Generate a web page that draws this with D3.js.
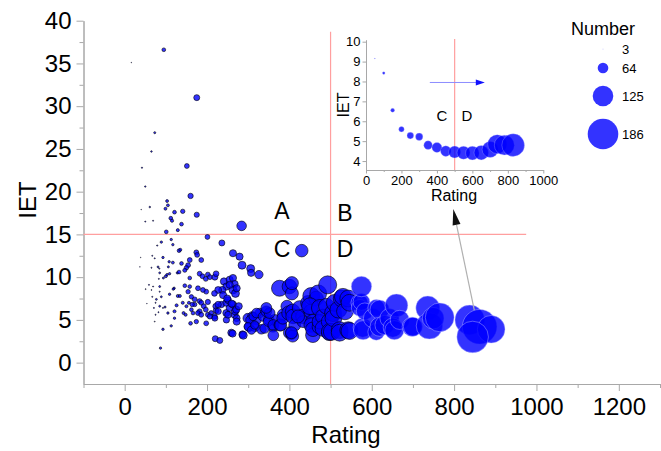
<!DOCTYPE html>
<html><head><meta charset="utf-8">
<script src="https://cdn.jsdelivr.net/npm/d3@7"></script>
<style>html,body{margin:0;padding:0;background:#fff;}svg{display:block;font-family:"Liberation Sans",Arial,sans-serif;}</style>
</head><body>
<svg id="c" width="661" height="451"></svg>
<script>
// ---------- data ----------
// main scatter: Rating, IET, Number
const rating = [95,16,175,73,65,151,42,50,160,103,105,99,61,121,141,175,112,115,138,50,69,284,40,
101,129,201,236,263,279,285,306,307,326,430,89,113,79,117,132,135,174,176,186,158,154,150,138,117,93,108,73,67,39,37,
81,65,84,106,85,100,103,109,94,83,128,132,146,158,182,189,197,202,207,219,222,241,255,263,267,247,237,239,263,269,272,255,227,218,198,190,178,158,146,120,118,129,134,109,85,85,69,65,51,59,67,77,89,75,85,82,93,71,75,73,54,105,121,113,93,87,98,121,126,141,150,156,143,148,160,162,166,170,164,170,154,162,182,186,192,197,182,178,186,202,198,174,210,218,207,221,222,202,235,227,227,247,251,249,247,247,251,255,263,260,267,268,271,277,272,219,259,286,220,231,262,272,288,
299,302,310,320,328,316,332,304,300,308,312,316,320,336,344,350,360,364,340,348,352,344,361,361,377,385,379,384,376,400,406,406,400,405,408,394,399,408,409,413,425,433,433,445,453,453,457,453,457,457,465,470,450,474,473,473,481,482,490,493,497,498,498,405,421,
503,506,507,510,519,522,522,527,530,535,543,543,546,546,570,571,575,575,578,579,583,603,611,611,619,619,631,643,651,655,660,668,697,700,736,740,749,765,838,862,890,845];
const iet = [36.6,35.1,31.0,26.9,24.7,23.0,22.8,20.6,19.5,18.9,18.4,18.0,18.2,17.6,17.7,17.3,16.9,16.6,16.2,16.5,16.6,16.0,17.9,
15.3,15.5,14.7,14.0,12.8,12.4,11.4,11.0,10.5,10.3,13.1,14.1,14.4,13.7,13.8,13.1,13.2,12.9,12.6,12.0,12.0,11.4,11.1,11.6,11.7,12.3,11.8,12.2,12.5,12.3,11.2,
11.2,11.1,11.0,11.2,10.5,10.1,10.3,10.4,9.9,9.8,10.5,10.6,10.8,9.9,10.4,10.1,9.8,10.3,10.0,10.0,10.4,9.5,9.7,9.9,9.2,8.9,8.5,7.9,8.5,8.1,8.7,9.1,8.5,8.1,8.3,8.5,8.7,8.9,9.0,8.7,8.6,7.8,7.8,8.0,8.9,8.3,8.9,8.5,8.6,9.1,7.7,7.4,7.7,7.0,6.6,5.9,6.4,6.4,5.6,4.8,6.9,5.8,5.2,4.3,3.9,1.7,6.5,6.0,6.7,7.0,6.6,7.0,5.8,5.6,4.6,6.2,5.8,6.8,6.8,7.4,8.3,7.7,7.2,7.0,6.6,6.2,6.0,5.8,5.6,5.6,4.6,4.8,5.8,5.4,5.4,6.6,6.1,7.1,6.8,6.8,6.0,7.0,7.3,7.5,5.8,5.0,5.6,6.4,6.8,6.9,5.6,6.0,6.2,6.6,5.2,5.2,3.5,3.3,2.8,2.6,3.4,4.8,3.2,
5.2,4.2,5.4,5.0,5.8,4.2,3.9,5.0,4.2,3.8,5.4,4.4,5.8,5.4,6.0,5.0,4.2,5.0,4.0,4.8,5.8,6.4,4.4,3.2,4.4,5.6,4.4,5.2,8.7,8.9,8.1,9.3,3.5,3.4,3.1,6.6,5.8,6.0,5.4,4.4,6.4,5.4,4.8,7.0,6.0,7.8,4.8,4.4,3.2,3.9,7.5,8.1,6.6,6.4,4.2,4.8,5.4,4.0,6.6,9.1,3.5,4.8,3.6,3.5,5.4,
3.6,5.8,5.2,7.0,6.2,3.8,3.5,7.5,7.7,6.0,7.5,3.8,7.0,3.7,7.0,6.4,7.1,8.9,4.1,3.8,6.0,5.2,6.4,3.6,6.2,4.2,4.4,5.2,4.1,3.8,6.7,5.0,4.2,4.2,6.4,4.3,5.2,5.3,5.0,4.2,3.9,3.0];
const number = [22,3,36,12,9,29,7,8,32,17,17,17,9,22,26,31,22,19,22,6,6,58,3,
22,18,29,36,43,43,48,48,43,50,76,14,14,7,14,22,18,29,29,29,29,29,26,22,17,14,14,6,6,3,3,
11,6,7,12,11,17,14,14,12,6,14,22,24,22,29,29,29,29,29,36,34,43,43,43,43,43,43,43,48,48,43,43,41,34,29,29,29,22,22,14,14,18,18,14,11,6,6,5,5,6,6,11,11,6,11,6,6,6,6,5,3,14,14,14,14,14,12,18,18,18,18,18,18,18,22,22,22,26,26,29,26,26,29,29,29,29,29,29,29,29,29,26,29,34,31,34,34,31,38,38,38,43,41,43,43,38,41,43,43,43,43,43,43,43,41,36,43,43,36,36,43,43,48,
58,58,58,58,58,58,58,50,50,50,50,50,58,58,65,65,65,65,58,58,65,65,65,65,72,72,72,72,97,88,79,79,72,72,72,72,88,88,88,72,88,88,72,88,88,102,88,88,88,88,88,102,102,102,88,88,88,97,95,109,95,102,102,72,79,
102,102,102,102,102,102,102,102,102,102,102,102,102,102,102,102,102,124,116,116,102,116,102,102,116,116,116,116,116,116,138,116,116,116,145,160,131,175,180,210,168,192];

// inset (binned means)
const insetRating = [50,100,150,200,250,300,350,400,450,500,550,600,650,700,740,780,830];
const insetIET    = [9.15,8.42,6.55,5.6,5.28,5.22,4.8,4.68,4.5,4.45,4.42,4.4,4.42,4.58,4.85,4.8,4.8];
const insetNumber = [6,20,31,43,53,59,69,81,86,98,106,111,118,131,156,164,186];

// legend
const legendValues = [3,64,125,186];

// tick labels
const xTicks = [0,200,400,600,800,1000,1200];
const yTicks = [0,5,10,15,20,25,30,35,40];
const insetXTicks = [0,200,400,600,800,1000];
const insetYTicks = [4,5,6,7,8,9,10];

// ---------- drawing ----------
const svg = d3.select("#c");
const AX = "#a8a8a8";
const RED = "#ff9f9f";
const FILL = "rgba(0,0,255,0.8)";
const fmt = d3.format("d");

const x = d3.scaleLinear([-100,1300],[83.5,660]);
const y = d3.scaleLinear([-2.5,40],[384,20.7]);
const r = d3.scaleLinear([3,186],[0.3,15.3]);

function styleAxis(g){
  g.selectAll("path,line").attr("stroke",AX);
  g.selectAll("text").attr("fill","#000");
}

// minor ticks
const gxm = svg.append("g").attr("transform","translate(0,384)")
  .call(d3.axisBottom(x).tickValues(d3.range(-100,1301,100).filter(v=>v%200!==0)).tickSize(4).tickFormat("").tickSizeOuter(0));
styleAxis(gxm);
const gym = svg.append("g").attr("transform","translate(83.5,0)")
  .call(d3.axisLeft(y).tickValues(d3.range(2.5,40,5)).tickSize(4).tickFormat("").tickSizeOuter(0));
styleAxis(gym);

const gx = svg.append("g").attr("transform","translate(0,384)")
  .call(d3.axisBottom(x).tickValues(xTicks).tickFormat(fmt).tickSize(7).tickPadding(7).tickSizeOuter(0));
gx.selectAll("text").attr("font-size",24).attr("font-family","Liberation Sans, Arial");
styleAxis(gx);
const gy = svg.append("g").attr("transform","translate(83.5,0)")
  .call(d3.axisLeft(y).tickValues(yTicks).tickFormat(fmt).tickSize(7).tickPadding(5).tickSizeOuter(0));
gy.selectAll("text").attr("font-size",24).attr("font-family","Liberation Sans, Arial");
styleAxis(gy);

svg.append("text").attr("x",346).attr("y",443).attr("text-anchor","middle")
  .attr("font-size",24).text("Rating");
svg.append("text").attr("transform","translate(36,200) rotate(-90)").attr("text-anchor","middle")
  .attr("font-size",24).text("IET");

// reference lines
svg.append("line").attr("x1",x(500)).attr("x2",x(500)).attr("y1",y(38.7)).attr("y2",y(-2.5))
  .attr("stroke",RED).attr("stroke-width",1.2);
svg.append("line").attr("x1",x(-100)).attr("x2",x(975)).attr("y1",y(15)).attr("y2",y(15))
  .attr("stroke",RED).attr("stroke-width",1.2);

// quadrant labels
[["A",282,219],["B",345,221],["C",282,257],["D",345,257]].forEach(([t,a,b])=>{
  svg.append("text").attr("x",a).attr("y",b).attr("text-anchor","middle").attr("font-size",23).text(t);
});

// scatter points
const pts = rating.map((d,i)=>({x:d,y:iet[i],n:number[i]}));
svg.append("g").selectAll("circle").data(pts).join("circle")
  .attr("cx",d=>x(d.x)).attr("cy",d=>y(d.y)).attr("r",d=>r(d.n))
  .attr("fill",FILL)
  .attr("stroke",d=>d.x<560?"#000":"rgba(200,200,255,0.7)")
  .attr("stroke-width",0.6);

// gray arrow
const a0=[849,6.15], a1=[798,17.96];
const p0=[x(a0[0]),y(a0[1])], p1=[x(a1[0]),y(a1[1])];
const ang=Math.atan2(p1[1]-p0[1],p1[0]-p0[0]);
const hl=16, hw=4;
const base=[p1[0]-hl*Math.cos(ang),p1[1]-hl*Math.sin(ang)];
svg.append("line").attr("x1",p0[0]).attr("y1",p0[1]).attr("x2",base[0]).attr("y2",base[1])
  .attr("stroke","#b0b0b0").attr("stroke-width",1.2);
svg.append("path").attr("d",`M${p1[0]},${p1[1]}L${base[0]+hw*Math.sin(ang)},${base[1]-hw*Math.cos(ang)}L${base[0]-hw*Math.sin(ang)},${base[1]+hw*Math.cos(ang)}Z`)
  .attr("fill","#111");

// ---------- inset ----------
const ix = d3.scaleLinear([0,1000],[366,543.3]);
const iy = d3.scaleLinear([3.55,10.1],[170,39.7]);
const ir = d3.scaleLinear([3,186],[0.3,11.3]);

const igxm = svg.append("g").attr("transform","translate(0,170)")
  .call(d3.axisBottom(ix).tickValues([100,300,500,700,900]).tickSize(2).tickFormat("").tickSizeOuter(0));
styleAxis(igxm);
const igx = svg.append("g").attr("transform","translate(0,170)")
  .call(d3.axisBottom(ix).tickValues(insetXTicks).tickFormat(fmt).tickSize(3.5).tickPadding(2.5).tickSizeOuter(0));
igx.selectAll("text").attr("font-size",13).attr("font-family","Liberation Sans, Arial");
styleAxis(igx);
const igy = svg.append("g").attr("transform","translate(366,0)")
  .call(d3.axisLeft(iy).tickValues(insetYTicks).tickFormat(fmt).tickSize(3.5).tickPadding(2).tickSizeOuter(0));
igy.selectAll("text").attr("font-size",13).attr("font-family","Liberation Sans, Arial");
styleAxis(igy);

svg.append("text").attr("x",454).attr("y",201).attr("text-anchor","middle").attr("font-size",16).text("Rating");
svg.append("text").attr("transform","translate(349,105) rotate(-90)").attr("text-anchor","middle")
  .attr("font-size",16).text("IET");

svg.append("line").attr("x1",ix(500)).attr("x2",ix(500)).attr("y1",39).attr("y2",170)
  .attr("stroke",RED).attr("stroke-width",1.2);

svg.append("text").attr("x",442).attr("y",121).attr("text-anchor","middle").attr("font-size",15).text("C");
svg.append("text").attr("x",467).attr("y",121).attr("text-anchor","middle").attr("font-size",15).text("D");

// inset points
const ipts = insetRating.map((d,i)=>({x:d,y:insetIET[i],n:insetNumber[i]}));
svg.append("g").selectAll("circle").data(ipts).join("circle")
  .attr("cx",d=>ix(d.x)).attr("cy",d=>iy(d.y)).attr("r",d=>ir(d.n))
  .attr("fill",FILL).attr("stroke","rgba(190,190,255,0.6)").attr("stroke-width",0.5);

// inset blue arrow
const ba0=[ix(360),iy(7.95)], ba1=[ix(670),iy(7.95)];
svg.append("line").attr("x1",ba0[0]).attr("y1",ba0[1]).attr("x2",ba1[0]-8).attr("y2",ba1[1])
  .attr("stroke","#8c8cff").attr("stroke-width",1);
svg.append("path").attr("d",`M${ba1[0]},${ba1[1]}L${ba1[0]-9},${ba1[1]-3}L${ba1[0]-9},${ba1[1]+3}Z`)
  .attr("fill","#1010ff");

// ---------- legend ----------
svg.append("text").attr("x",603).attr("y",35).attr("text-anchor","middle").attr("font-size",18).text("Number");
const ly = [49,68,96,134];
legendValues.forEach((v,i)=>{
  svg.append("circle").attr("cx",603).attr("cy",ly[i]).attr("r",r(v)).attr("fill",FILL);
  svg.append("text").attr("x",622).attr("y",ly[i]+4.5).attr("font-size",13).text(v);
});
</script>
</body></html>
